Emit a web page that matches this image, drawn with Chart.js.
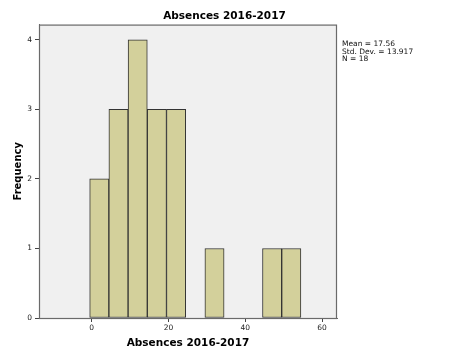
<!DOCTYPE html>
<html>
<head>
<meta charset="utf-8">
<script src="https://cdn.jsdelivr.net/npm/chart.js@4/dist/chart.umd.min.js"></script>
<style>
  html, body { margin: 0; padding: 0; background: #ffffff; }
  #wrap { position: relative; width: 449px; height: 358px; }
  #stats { position: absolute; left: 342px; top: 40px; font: 7.5px "DejaVu Sans", sans-serif; line-height: 7.5px; color: #111; white-space: pre; }
</style>
</head>
<body>
<div id="wrap">
  <canvas id="c" width="449" height="358"></canvas>
  <div id="stats">Mean = 17.56
Std. Dev. = 13.917
N = 18</div>
</div>
<script>
// ---- data ----
const chartTitle = "Absences 2016-2017";
const xAxisTitle = "Absences 2016-2017";
const yAxisTitle = "Frequency";
const binCenters = [2, 7, 12, 17, 22, 32, 47, 52];   // bins of width 5 (-0.5..4.5, ...)
const frequencies = [2, 3, 4, 3, 3, 1, 1, 1];
const xTickValues = [0, 20, 40, 60];
const yTickValues = [0, 1, 2, 3, 4];

const points = binCenters.map((c, i) => ({ x: c, y: frequencies[i] }));

const bgPlugin = {
  id: 'plotFrame',
  beforeDraw(chart) {
    const { ctx, chartArea: a } = chart;
    ctx.save();
    ctx.fillStyle = '#f0f0f0';
    ctx.fillRect(a.left, a.top, a.right - a.left, a.bottom - a.top);
    ctx.restore();
  },
  afterDatasetsDraw(chart) {
    const { ctx, chartArea: a } = chart;
    ctx.save();
    ctx.strokeStyle = '#6a6a6a';
    ctx.lineWidth = 1.2;
    ctx.strokeRect(a.left + 0.5, a.top + 0.5, a.right - a.left - 1, a.bottom - a.top);
    ctx.restore();
  }
};

new Chart(document.getElementById('c'), {
  type: 'bar',
  data: {
    datasets: [{
      data: points,
      backgroundColor: '#d3d09b',
      borderColor: '#333333',
      borderWidth: 1,
      borderSkipped: false,
      barPercentage: 1.0,
      categoryPercentage: 1.0
    }]
  },
  plugins: [bgPlugin],
  options: {
    responsive: false,
    devicePixelRatio: 1,
    animation: false,
    layout: { padding: 0 },
    plugins: {
      legend: { display: false },
      tooltip: { enabled: false },
      title: {
        display: true,
        text: chartTitle,
        color: '#000',
        font: { family: 'DejaVu Sans', size: 10.5, weight: 'bold' },
        padding: { top: 10, bottom: 2 }
      }
    },
    scales: {
      x: {
        type: 'linear',
        position: 'bottom',
        min: -13.7,
        max: 63.9,
        offset: false,
        afterFit(s) { s.height = 40; },
        afterBuildTicks(s) { s.ticks = xTickValues.map(v => ({ value: v })); },
        grid: { display: true, drawOnChartArea: false, drawTicks: true, tickLength: 4, color: '#444', offset: false },
        border: { display: true, color: '#6a6a6a' },
        ticks: { color: '#222', font: { family: 'DejaVu Sans', size: 7.5 }, padding: 2, maxRotation: 0, autoSkip: false },
        title: {
          display: true,
          text: xAxisTitle,
          color: '#000',
          font: { family: 'DejaVu Sans', size: 10.5, weight: 'bold' },
          padding: { top: 0, bottom: 8 }
        }
      },
      y: {
        type: 'linear',
        position: 'left',
        min: 0,
        max: 4.22,
        afterFit(s) { s.width = 39; },
        afterBuildTicks(s) { s.ticks = yTickValues.map(v => ({ value: v })); },
        grid: { display: true, drawOnChartArea: false, drawTicks: true, tickLength: 4, color: '#444' },
        border: { display: true, color: '#6a6a6a' },
        ticks: { color: '#222', font: { family: 'DejaVu Sans', size: 7.5 }, padding: 3 },
        title: {
          display: true,
          text: yAxisTitle,
          color: '#000',
          font: { family: 'DejaVu Sans', size: 10, weight: 'bold' },
          padding: { top: 12, bottom: 0 }
        }
      },
      yRight: {
        type: 'linear',
        position: 'right',
        display: true,
        afterFit(s) { s.width = 112; },
        grid: { display: false },
        border: { display: false },
        ticks: { display: false }
      }
    }
  }
});
</script>
</body>
</html>
